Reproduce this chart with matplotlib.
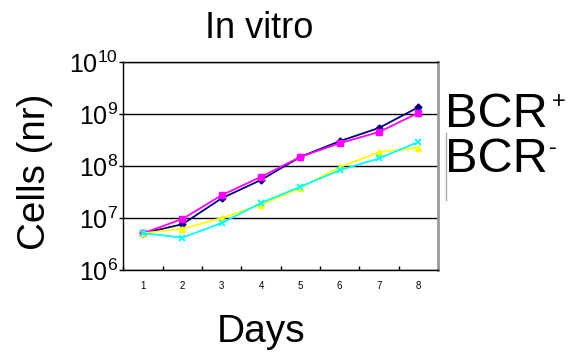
import matplotlib
matplotlib.use("Agg")
import matplotlib.pyplot as plt
from matplotlib.lines import Line2D
from matplotlib.ticker import FixedLocator, NullFormatter, FixedFormatter

plt.rcParams['font.family'] = ['Liberation Sans', 'DejaVu Sans']
plt.rcParams['mathtext.fontset'] = 'custom'
plt.rcParams['mathtext.rm'] = 'Liberation Sans'

days = [1, 2, 3, 4, 5, 6, 7, 8]
bcr_pos_a = [5.1e6, 7.6e6, 2.4e7, 5.4e7, 1.5e8, 3.0e8, 5.4e8, 1.35e9]   # navy diamonds
bcr_pos_b = [5.1e6, 9.6e6, 2.75e7, 6.2e7, 1.5e8, 2.75e8, 4.5e8, 1.05e9]  # magenta squares
bcr_neg_a = [5.1e6, 6.2e6, 1.0e7, 1.8e7, 3.8e7, 9.5e7, 1.85e8, 2.25e8]   # yellow triangles
bcr_neg_b = [5.1e6, 4.2e6, 8.0e6, 1.95e7, 4.0e7, 8.3e7, 1.4e8, 2.9e8]    # cyan crosses
ytick_vals = [1e6, 1e7, 1e8, 1e9, 1e10]
ytick_labels = [r'$\mathregular{10^{6}}$', r'$\mathregular{10^{7}}$', r'$\mathregular{10^{8}}$',
                r'$\mathregular{10^{9}}$', r'$\mathregular{10^{10}}$']

fig = plt.figure(figsize=(5.67, 3.53), dpi=100)
ax = fig.add_axes([0.2178, 0.2351, 0.7725 - 0.2178, 0.8244 - 0.2351])

ax.plot(days, bcr_pos_a, color='#000080', marker='D', ms=3.5, lw=1.3, zorder=3)
ax.plot(days, bcr_pos_b, color='#FF00FF', marker='s', ms=4.5, lw=1.3, zorder=3)
ax.plot(days, bcr_neg_a, color='#FFFF00', marker='^', ms=5, lw=1.3, zorder=3)
ax.plot(days, bcr_neg_b, color='#00FFFF', marker='x', ms=5, mew=1.3, lw=1.3, zorder=3)

ax.set_yscale('log')
ax.set_ylim(1e6, 1e10)
ax.set_xlim(0.5, 8.5)
ax.yaxis.set_major_locator(FixedLocator(ytick_vals))
ax.yaxis.set_major_formatter(FixedFormatter(ytick_labels))
ax.yaxis.set_minor_locator(FixedLocator([]))
ax.grid(axis='y', which='major', color='black', lw=1)
ax.tick_params(axis='y', labelsize=18, length=3, width=1, pad=1, direction='out')

ax.xaxis.set_major_locator(FixedLocator([d + 0.5 for d in [0] + days]))
ax.xaxis.set_major_formatter(NullFormatter())
ax.xaxis.set_minor_locator(FixedLocator(days))
ax.xaxis.set_minor_formatter(FixedFormatter([str(d) for d in days]))
ax.tick_params(axis='x', which='major', direction='in', length=3, width=1)
ax.tick_params(axis='x', which='minor', length=0, labelsize=7, pad=8)

for s in ['left', 'bottom', 'top']:
    ax.spines[s].set_color('black')
    ax.spines[s].set_linewidth(1)
ax.spines['right'].set_color('#999999')
ax.spines['right'].set_linewidth(2)

fig.text(0.457, 0.892, 'In vitro', fontsize=26, ha='center', va='baseline')
fig.text(0.461, 0.031, 'Days', fontsize=28, ha='center', va='baseline')
fig.text(0.062, 0.512, 'Cells (nr)', fontsize=27.8, ha='center', va='center', rotation=90)

fig.text(0.785, 0.640, 'BCR', fontsize=35, ha='left', va='baseline')
fig.text(0.785, 0.513, 'BCR', fontsize=35, ha='left', va='baseline')
fig.text(552 / 567, 1 - 102 / 353, '+', fontsize=17, ha='left', va='center')
fig.text(549 / 567, 1 - 148 / 353, '-', fontsize=17, ha='left', va='center')
fig.add_artist(Line2D([446 / 567, 446 / 567], [1 - 133 / 353, 1 - 200 / 353],
                      color='#aaaaaa', lw=1, transform=fig.transFigure))

fig.savefig('out.png', dpi=100)
